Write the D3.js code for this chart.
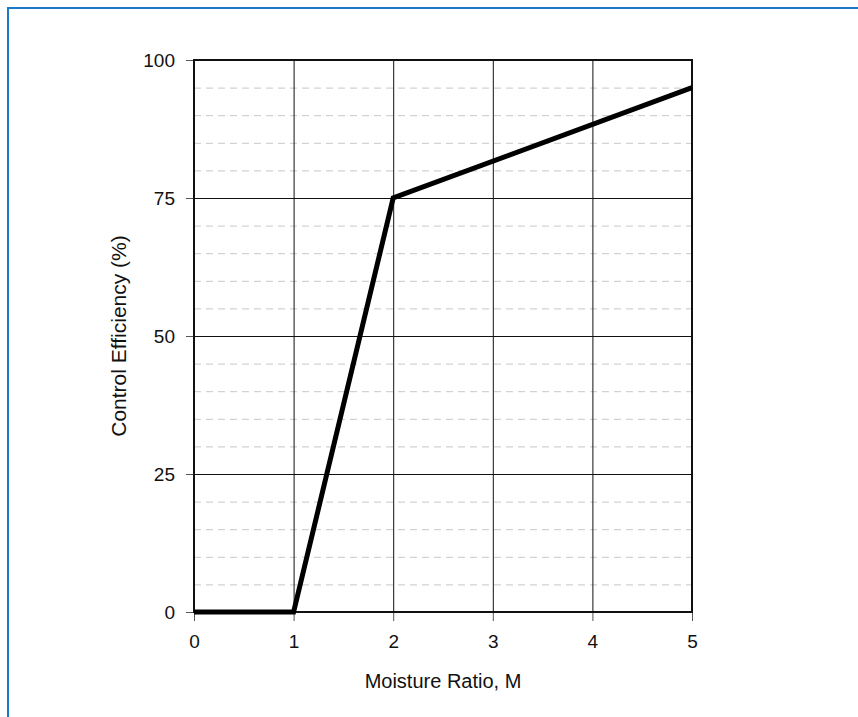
<!DOCTYPE html>
<html>
<head>
<meta charset="utf-8">
<script src="https://cdn.jsdelivr.net/npm/d3@7"></script>
<style>
  body { margin: 0; background: #fff; }
  text { font-family: "Liberation Sans", Arial, sans-serif; }
</style>
</head>
<body>
<div id="chart"></div>
<script>
var margin = { top: 60, right: 166, bottom: 105, left: 194 };
var w = 858,
    h = 717;

// data
var ratio = [0, 1, 2, 5];
var efficiency = [0, 0, 75, 95];
var xTicks = [0, 1, 2, 3, 4, 5];
var yTicks = [0, 25, 50, 75, 100];
var yMinor = [5, 10, 15, 20, 30, 35, 40, 45, 55, 60, 65, 70, 80, 85, 90, 95];

var points = ratio.map(function(d, i) { return { x: d, y: efficiency[i] }; });

var svg = d3.select("#chart").append("svg")
  .attr("width", w)
  .attr("height", h);

// blue frame
svg.append("rect")
  .attr("x", 8)
  .attr("y", 8)
  .attr("width", w + 20)
  .attr("height", h + 20)
  .attr("fill", "none")
  .attr("stroke", "#1a78c8")
  .attr("stroke-width", 2);

var xScale = d3.scaleLinear()
  .domain([0, 5])
  .range([margin.left, w - margin.right]);
var yScale = d3.scaleLinear()
  .domain([0, 100])
  .range([h - margin.bottom, margin.top]);

// minor dashed grid
svg.selectAll(".minor")
  .data(yMinor)
  .enter()
  .append("line")
  .attr("class", "minor")
  .attr("x1", xScale(0))
  .attr("x2", xScale(5))
  .attr("y1", function(d) { return yScale(d) + 0.5; })
  .attr("y2", function(d) { return yScale(d) + 0.5; })
  .attr("stroke", "#c8c8c8")
  .attr("stroke-dasharray", "7,5");

// major grid
svg.selectAll(".vgrid")
  .data(xTicks.slice(1, -1))
  .enter()
  .append("line")
  .attr("class", "vgrid")
  .attr("x1", function(d) { return xScale(d) + 0.5; })
  .attr("x2", function(d) { return xScale(d) + 0.5; })
  .attr("y1", yScale(0))
  .attr("y2", yScale(100))
  .attr("stroke", "#111");
svg.selectAll(".hgrid")
  .data(yTicks.slice(1, -1))
  .enter()
  .append("line")
  .attr("class", "hgrid")
  .attr("x1", xScale(0))
  .attr("x2", xScale(5))
  .attr("y1", function(d) { return yScale(d) + 0.5; })
  .attr("y2", function(d) { return yScale(d) + 0.5; })
  .attr("stroke", "#111");

// axes
var xAxis = d3.axisBottom(xScale)
  .tickValues(xTicks)
  .tickFormat(d3.format("d"))
  .tickSizeInner(9)
  .tickSizeOuter(0)
  .tickPadding(14);
var yAxis = d3.axisLeft(yScale)
  .tickValues(yTicks)
  .tickFormat(d3.format("d"))
  .tickSizeInner(8)
  .tickSizeOuter(0)
  .tickPadding(11);

var gx = svg.append("g")
  .attr("transform", "translate(0," + yScale(0) + ")")
  .call(xAxis);
var gy = svg.append("g")
  .attr("transform", "translate(" + xScale(0) + ",0)")
  .call(yAxis);

[gx, gy].forEach(function(g) {
  g.select(".domain").remove();
  g.selectAll(".tick line").attr("stroke", "#555");
  g.selectAll(".tick text")
    .attr("fill", "#111")
    .style("font-size", "19px")
    .style("font-family", "'Liberation Sans', Arial, sans-serif");
});

// plot frame
svg.append("rect")
  .attr("x", xScale(0))
  .attr("y", yScale(100))
  .attr("width", xScale(5) - xScale(0))
  .attr("height", yScale(0) - yScale(100))
  .attr("fill", "none")
  .attr("stroke", "#111")
  .attr("stroke-width", 2);

// the curve
var line = d3.line()
  .x(function(d) { return xScale(d.x); })
  .y(function(d) { return yScale(d.y); });
svg.append("path")
  .datum(points)
  .attr("d", line)
  .attr("fill", "none")
  .attr("stroke", "#000")
  .attr("stroke-width", 5)
  .attr("stroke-linejoin", "miter");

// axis titles
svg.append("text")
  .attr("x", (xScale(0) + xScale(5)) / 2)
  .attr("y", 688)
  .attr("text-anchor", "middle")
  .attr("fill", "#111")
  .style("font-size", "20px")
  .text("Moisture Ratio, M");
svg.append("text")
  .attr("transform", "translate(126," + ((yScale(0) + yScale(100)) / 2) + ")rotate(-90)")
  .attr("text-anchor", "middle")
  .attr("fill", "#111")
  .style("font-size", "21px")
  .text("Control Efficiency (%)");
</script>
</body>
</html>
